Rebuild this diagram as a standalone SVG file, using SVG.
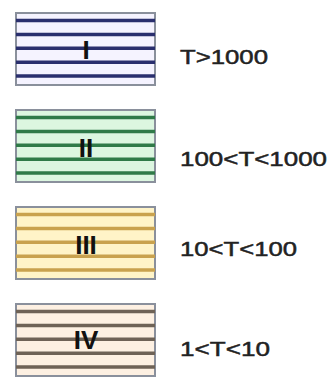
<svg xmlns="http://www.w3.org/2000/svg" width="333" height="377" viewBox="0 0 333 377">
<style>
.box{stroke:#8a909c;stroke-width:2}
.ln{stroke-width:3.5}
.num{font-family:"Liberation Sans",Arial,sans-serif;font-weight:bold;font-size:26px;fill:#111;text-anchor:middle}
.lbl{font-family:"Liberation Sans",Arial,sans-serif;font-size:21px;fill:#222;stroke:#222;stroke-width:0.5}
</style>
<defs>
<g id="stripes">
<line x1="16" x2="155" y1="7.5" y2="7.5"/>
<line x1="16" x2="155" y1="21.4" y2="21.4"/>
<line x1="16" x2="155" y1="35.3" y2="35.3"/>
<line x1="16" x2="155" y1="49.2" y2="49.2"/>
<line x1="16" x2="155" y1="63.1" y2="63.1"/>
</g>
</defs>
<rect width="333" height="377" fill="#ffffff"/>
<g id="node1">
<rect class="box" x="16" y="13" width="139" height="72" fill="#f5f3ff"/>
<use href="#stripes" transform="translate(0,13)" class="ln" stroke="#2a2f6e"/>
<text class="num" x="86" y="59">I</text>
</g>
<g id="node2">
<rect class="box" x="16" y="110" width="139" height="72" fill="#dcf6e0"/>
<use href="#stripes" transform="translate(0,110)" class="ln" stroke="#2f7a48"/>
<text class="num" x="86" y="157">II</text>
</g>
<g id="node3">
<rect class="box" x="16" y="207" width="139" height="72" fill="#fff4c8"/>
<use href="#stripes" transform="translate(0,207)" class="ln" stroke="#c9a24e"/>
<text class="num" x="86" y="254">III</text>
</g>
<g id="node4">
<rect class="box" x="16" y="304" width="139" height="72" fill="#fdf0e2"/>
<use href="#stripes" transform="translate(0,304)" class="ln" stroke="#6e6256"/>
<text class="num" x="86" y="349">IV</text>
</g>
<g id="labels">
<text class="lbl" x="180" y="64" textLength="88" lengthAdjust="spacingAndGlyphs">T&gt;1000</text>
<text class="lbl" x="180" y="166" textLength="147" lengthAdjust="spacingAndGlyphs">100&lt;T&lt;1000</text>
<text class="lbl" x="180" y="256" textLength="117" lengthAdjust="spacingAndGlyphs">10&lt;T&lt;100</text>
<text class="lbl" x="180" y="356" textLength="90" lengthAdjust="spacingAndGlyphs">1&lt;T&lt;10</text>
</g>
<g id="connectors"></g>
</svg>
